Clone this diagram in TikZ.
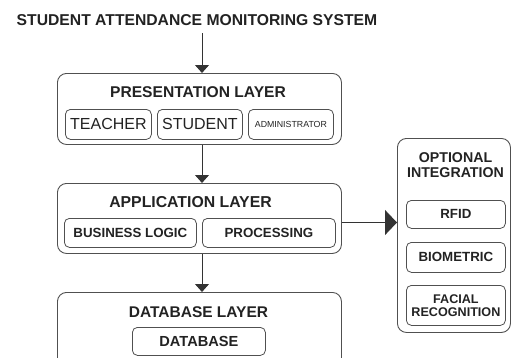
\documentclass[tikz,border=0pt]{standalone}
\usepackage{fontspec}
\setmainfont{Liberation Sans}
\usetikzlibrary{arrows.meta}
\definecolor{boxc}{HTML}{505050}
\definecolor{txtc}{HTML}{222222}
\definecolor{arrc}{HTML}{333333}
\newcommand{\fsz}[1]{\fontsize{#1}{#1}\selectfont}
\begin{document}
\begin{tikzpicture}[x=1pt,y=-1pt,
  outerbox/.style={draw=boxc, line width=0.9pt, rounded corners=9pt, anchor=north west, inner sep=0pt},
  innerbox/.style={draw=boxc, line width=0.8pt, rounded corners=5pt, anchor=north west, inner sep=0pt, align=center, text=txtc},
  ttl/.style={text=txtc, inner sep=0pt, align=center, font=\bfseries\fsz{15.6}},
  downarr/.style={draw=arrc, line width=0.9pt, -{Triangle[width=14pt,length=8pt]}},
  sidearr/.style={draw=arrc, line width=0.9pt, -{Triangle[width=25pt,length=12pt]}}
]
\useasboundingbox (0,0) rectangle (512,357);
\clip (0,0) rectangle (512,357);

\node[ttl, font=\bfseries\fsz{15.7}] (title) at (197,20.5) {STUDENT ATTENDANCE MONITORING SYSTEM};

% presentation layer
\node[outerbox, minimum width=284pt, minimum height=71pt] (pres) at (57,73) {};
\node[ttl] (prest) at (198,92.5) {PRESENTATION LAYER};
\node[innerbox, minimum width=86pt, minimum height=30pt, font=\fsz{16}] (teacher) at (65,109) {TEACHER};
\node[innerbox, minimum width=85pt, minimum height=30pt, font=\fsz{16}] (student) at (157,109) {STUDENT};
\node[innerbox, minimum width=85pt, minimum height=30pt, font=\fsz{8.8}] (admin) at (248,109) {ADMINISTRATOR};

% application layer
\node[outerbox, minimum width=284pt, minimum height=70pt] (app) at (57,183) {};
\node[ttl, font=\bfseries\fsz{15.8}] (appt) at (190.5,202) {APPLICATION LAYER};
\node[innerbox, minimum width=132pt, minimum height=29pt, font=\bfseries\fsz{13.3}] (blogic) at (64,218) {BUSINESS LOGIC};
\node[innerbox, minimum width=133pt, minimum height=29pt, font=\bfseries\fsz{13.3}] (proc) at (202,218) {PROCESSING};

% database layer
\node[outerbox, minimum width=284pt, minimum height=85pt] (db) at (57,292) {};
\node[ttl, font=\bfseries\fsz{15.5}] (dbt) at (198.5,312) {DATABASE LAYER};
\node[innerbox, minimum width=133pt, minimum height=28pt, font=\bfseries\fsz{14.6}] (dbase) at (132,327) {DATABASE};

% optional integration
\node[outerbox, minimum width=113pt, minimum height=194pt] (opt) at (397,138) {};
\node[ttl, font=\bfseries\fsz{14.2}, align=center] (optt) at (455.5,165.5) {OPTIONAL\\[0.6pt]INTEGRATION};
\node[innerbox, minimum width=99pt, minimum height=28pt, font=\bfseries\fsz{13.3}] (rfid) at (406,200) {RFID};
\node[innerbox, minimum width=99pt, minimum height=30pt, font=\bfseries\fsz{13.3}] (bio) at (406,242) {BIOMETRIC};
\node[innerbox, minimum width=99pt, minimum height=40pt, font=\bfseries\fsz{12.6}] (face) at (406,285) {FACIAL\\[0.5pt]RECOGNITION};

% connectors
\coordinate (ax) at (202,0);
\coordinate (ay) at (0,222.5);
\coordinate (t0) at (202,33);
\draw[downarr] (t0) -- (pres.north -| ax);
\draw[downarr] (pres.south -| ax) -- (app.north -| ax);
\draw[downarr] (app.south -| ax) -- (db.north -| ax);
\draw[sidearr] (app.east |- ay) -- (opt.west |- ay);
\end{tikzpicture}
\end{document}
